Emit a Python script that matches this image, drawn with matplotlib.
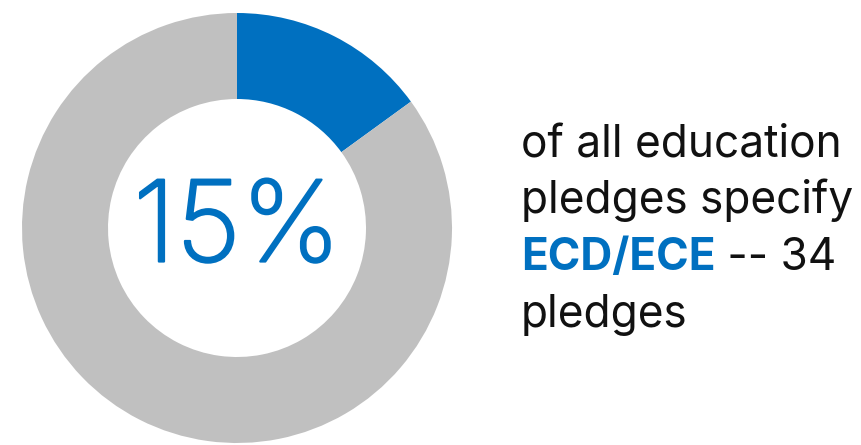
import matplotlib

matplotlib.use("Agg")
import matplotlib.pyplot as plt
import matplotlib.patheffects as pe

shares = [15, 85]
share_colors = ["#0070c0", "#c0c0c0"]
headline = "15%"
caption_lines = ["of all education", "pledges specify", None, "pledges"]
highlight = "ECD/ECE"
highlight_tail = " -- 34"

W, H = 862, 445
fig = plt.figure(figsize=(W / 100, H / 100), dpi=100)
ax = fig.add_axes([0, 0, 1, 1])

cx, cy, r = 237, H - 228, 215
ax.pie(
    shares,
    colors=share_colors,
    startangle=90,
    counterclock=False,
    center=(cx, cy),
    radius=r,
    wedgeprops=dict(width=86, linewidth=0),
    frame=True,
)
ax.set_xlim(0, W)
ax.set_ylim(0, H)
ax.set_aspect("equal")
ax.axis("off")

ax.text(cx, cy - 4, headline, ha="center", va="center", fontsize=81,
        color=share_colors[0], family="Inter", fontweight="light",
        path_effects=[pe.withStroke(linewidth=1.6, foreground=share_colors[0])])

x0 = 521
base = [H - 157, H - 213, H - 270, H - 327]
for line, y in zip(caption_lines, base):
    if line is not None:
        ax.text(x0, y, line, ha="left", va="baseline", fontsize=31.8,
                color="#111111", family="Inter")
    else:
        t = ax.text(x0, y, highlight, ha="left", va="baseline", fontsize=31.8,
                    color=share_colors[0], family="Inter", fontweight="bold")
        ax.annotate(highlight_tail, xy=(1, 0), xycoords=t, ha="left", va="bottom",
                    fontsize=31.8, color="#111111", family="Inter")

fig.savefig("out.png", dpi=100, facecolor="white")
